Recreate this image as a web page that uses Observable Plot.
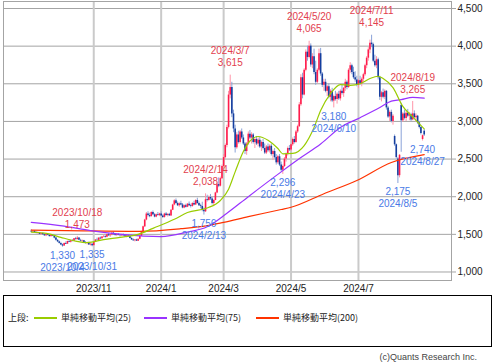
<!DOCTYPE html>
<html><head><meta charset="utf-8">
<script src="https://cdn.jsdelivr.net/npm/d3@7"></script>
<script src="https://cdn.jsdelivr.net/npm/@observablehq/plot@0.6"></script>
<style>
body{margin:0;background:#fff;width:493px;height:362px;overflow:hidden;position:relative;font-family:"Liberation Sans",Arial,sans-serif;}
#chart{position:absolute;left:0;top:0;}
#legend{position:absolute;left:3px;top:295px;width:489px;height:52px;box-sizing:border-box;border:1px solid #000;font-family:"Noto Sans CJK JP",sans-serif;font-size:9px;color:#222;}
#legend .t{position:absolute;top:16px;line-height:12px;white-space:nowrap;}
#legend .l{position:absolute;top:21px;height:1.5px;}
#copy{position:absolute;right:16px;top:352px;font-size:9px;color:#444;line-height:10px;}
</style></head>
<body>
<div id="chart"></div>
<div id="legend"></div>
<div id="copy">(c)Quants Research Inc.</div>
<script>
// trading-day index 0 = 2023/9/6 ... 239 = 2024/8/28
const monthTickIdx = [38, 79, 117, 158, 199];
const monthLabels = ["2023/11", "2024/1", "2024/3", "2024/5", "2024/7"];
const yTicks = [1000, 1500, 2000, 2500, 3000, 3500, 4000, 4500];

// [open, high, low, close]
const candles = [
// Sep
[1540,1560,1525,1530],[1530,1545,1515,1540],[1540,1550,1520,1525],[1525,1535,1505,1515],[1515,1530,1500,1520],
[1520,1525,1495,1500],[1500,1515,1485,1510],[1510,1520,1490,1495],[1495,1505,1475,1480],[1480,1500,1470,1495],
[1495,1510,1480,1485],[1485,1495,1465,1470],[1470,1490,1460,1485],[1485,1495,1470,1475],[1475,1480,1440,1450],
[1450,1460,1410,1420],[1420,1430,1390,1400],
// Oct
[1400,1410,1370,1380],[1380,1395,1350,1360],[1360,1370,1330,1345],[1345,1385,1340,1380],[1380,1400,1365,1370],
[1370,1410,1365,1405],[1405,1425,1390,1395],[1395,1420,1385,1415],[1415,1430,1400,1410],[1410,1445,1405,1440],
[1440,1460,1425,1430],[1430,1473,1425,1450],[1450,1455,1415,1420],[1420,1435,1400,1410],[1410,1425,1390,1415],
[1415,1420,1385,1390],[1390,1405,1370,1380],[1380,1395,1360,1390],[1390,1395,1355,1360],[1360,1375,1345,1370],
[1370,1375,1335,1350],
// Nov
[1350,1400,1345,1395],[1395,1430,1390,1425],[1425,1450,1410,1420],[1420,1455,1415,1450],[1450,1465,1430,1440],
[1440,1470,1435,1465],[1465,1490,1455,1470],[1470,1485,1450,1460],[1460,1500,1455,1495],[1495,1510,1475,1480],
[1480,1495,1460,1490],[1490,1525,1480,1515],[1515,1530,1490,1495],[1495,1505,1475,1485],[1485,1500,1470,1495],
[1495,1510,1480,1485],[1485,1495,1465,1480],[1480,1500,1470,1490],[1490,1505,1475,1480],[1480,1490,1460,1470],
// Dec
[1470,1485,1455,1480],[1480,1495,1465,1470],[1470,1480,1440,1445],[1445,1455,1420,1425],[1425,1440,1405,1415],
[1415,1430,1400,1425],[1425,1435,1405,1410],[1410,1440,1405,1435],[1435,1480,1430,1475],[1475,1540,1470,1535],
[1535,1610,1530,1600],[1600,1700,1590,1690],[1690,1790,1680,1770],[1770,1800,1730,1750],[1750,1780,1720,1735],
[1735,1800,1730,1790],[1790,1810,1750,1760],[1760,1775,1720,1730],[1730,1770,1720,1760],[1760,1790,1740,1750],
[1750,1780,1735,1770],
// Jan
[1770,1800,1740,1745],[1745,1760,1710,1725],[1725,1780,1715,1770],[1770,1790,1740,1750],[1750,1775,1730,1765],
[1765,1780,1740,1745],[1745,1830,1740,1820],[1820,1900,1815,1890],[1890,1960,1880,1945],[1945,1970,1900,1910],
[1910,1930,1870,1880],[1880,1920,1860,1905],[1905,1940,1880,1890],[1890,1910,1840,1850],[1850,1890,1840,1880],
[1880,1900,1850,1860],[1860,1910,1855,1900],[1900,1930,1870,1880],[1880,1900,1850,1870],
// Feb
[1870,1920,1860,1910],[1910,1940,1880,1890],[1890,1960,1885,1950],[1950,1980,1900,1910],[1910,1930,1870,1880],
[1880,1900,1840,1870],[1870,1927,1800,1820],[1820,1850,1756,1800],[1800,2038,1790,1960],[1960,2020,1930,1950],
[1950,2010,1940,1990],[1990,2030,1950,1970],[1970,1990,1890,1910],[1910,1960,1880,1950],[1950,2060,1945,2050],
[2050,2180,2040,2160],[2160,2250,2120,2140],[2140,2260,2130,2240],[2240,2420,2230,2400],
// Mar
[2400,2560,2380,2520],[2520,2700,2500,2680],[2680,2950,2650,2920],[2920,3400,2900,3350],[3350,3615,3300,3450],
[3450,3520,3050,3100],[3100,3150,2850,2900],[2900,2950,2580,2650],[2650,2850,2630,2820],[2820,2870,2700,2720],
[2720,2880,2700,2860],[2860,2900,2760,2780],[2780,2820,2680,2700],[2700,2720,2560,2600],[2600,2720,2550,2700],
[2700,2860,2680,2830],[2830,2880,2760,2780],[2780,2850,2700,2820],[2820,2840,2700,2720],[2720,2780,2640,2760],
// Apr
[2760,2800,2680,2700],[2700,2780,2660,2750],[2750,2790,2640,2660],[2660,2740,2600,2720],[2720,2760,2620,2640],
[2640,2700,2560,2580],[2580,2680,2560,2660],[2660,2700,2590,2610],[2610,2690,2580,2670],[2670,2700,2540,2560],
[2560,2620,2480,2600],[2600,2640,2500,2520],[2520,2560,2420,2450],[2450,2550,2430,2530],[2530,2560,2400,2420],
[2420,2460,2330,2350],[2350,2420,2296,2400],[2400,2520,2390,2500],[2500,2580,2460,2560],[2560,2660,2540,2640],
[2640,2680,2600,2620],
// May
[2620,2700,2600,2690],[2690,2780,2670,2760],[2760,2800,2700,2720],[2720,2880,2710,2860],[2860,2950,2840,2930],
[2930,3250,2920,3220],[3220,3620,3200,3580],[3580,3640,3300,3350],[3350,3700,3340,3680],[3680,3950,3660,3920],
[3920,4000,3800,3850],[3850,4065,3830,4000],[4000,4030,3720,3750],[3750,3900,3700,3860],[3860,3960,3620,3650],
[3650,3800,3480,3520],[3520,3700,3500,3680],[3680,3960,3660,3900],[3900,3970,3600,3630],[3630,3650,3450,3480],
[3480,3560,3400,3520],
// Jun
[3520,3560,3380,3400],[3400,3480,3330,3460],[3460,3500,3300,3320],[3320,3420,3260,3400],[3400,3440,3250,3270],
[3270,3350,3180,3330],[3330,3400,3270,3290],[3290,3380,3230,3360],[3360,3400,3280,3300],[3300,3420,3270,3400],
[3400,3480,3350,3370],[3370,3450,3320,3440],[3440,3560,3400,3520],[3520,3540,3420,3450],[3450,3700,3440,3680],
[3680,3780,3640,3740],[3740,3760,3620,3650],[3650,3720,3560,3580],[3580,3660,3520,3550],[3550,3600,3460,3480],
// Jul
[3480,3560,3440,3540],[3540,3600,3480,3500],[3500,3580,3460,3560],[3560,3640,3520,3620],[3620,3760,3600,3740],
[3740,3860,3700,3840],[3840,3980,3800,3950],[3950,4080,3900,4040],[4040,4145,3980,4020],[4020,4040,3780,3800],
[3800,3880,3720,3740],[3740,3860,3700,3820],[3820,3840,3550,3580],[3580,3600,3280,3320],[3320,3400,3260,3380],
[3380,3430,3300,3320],[3320,3420,3290,3400],[3400,3410,3150,3180],[3180,3200,3040,3060],[3060,3140,3000,3120],
[3120,3150,2980,3000],[3000,3090,2950,3070],
// Aug
[2800,2820,2670,2690],[2690,2700,2500,2520],[2500,2520,2175,2280],[2280,2560,2250,2550],[3210,3240,2590,3010],
[3010,3120,2990,3100],[3100,3150,3020,3040],[3040,3130,3000,3110],[3110,3160,3050,3070],[3070,3120,3010,3090],
[3090,3110,3000,3020],[3020,3265,3010,3100],[3100,3140,3030,3050],[3050,3100,2990,3070],[3070,3080,2960,2980],
[2980,3000,2900,2920],[2920,2930,2820,2840],[2760,2820,2740,2810],[2870,2890,2800,2820]
];

// moving averages [day index, value]
const ma25 = [[0,1530],[10,1510],[18,1460],[27,1410],[34,1390],[44,1430],[54,1460],[65,1500],[74,1580],[87,1700],[95,1790],[107,1850],[115,1950],[120,2100],[124,2330],[129,2600],[133,2740],[138,2800],[144,2750],[150,2640],[153,2570],[159,2575],[166,2680],[172,2920],[176,3145],[182,3370],[188,3490],[194,3480],[200,3500],[206,3570],[211,3600],[214,3570],[220,3450],[226,3200],[232,3060],[239,2900]];
const ma75 = [[0,1660],[20,1610],[36,1550],[55,1500],[79,1470],[95,1530],[107,1600],[119,1780],[132,2000],[152,2330],[164,2520],[176,2700],[188,2920],[200,3050],[212,3185],[219,3270],[225,3290],[232,3320],[239,3310]];
const ma200 = [[0,1555],[36,1545],[66,1540],[91,1575],[107,1615],[117,1660],[132,1735],[152,1830],[158,1860],[178,2040],[198,2215],[219,2455],[239,2560]];

const highLabels = [
  {i:28, date:"2023/10/18", v:1473},
  {i:106, date:"2024/2/14", v:2038},
  {i:121, date:"2024/3/7", v:3615},
  {i:169, date:"2024/5/20", v:4065},
  {i:207, date:"2024/7/11", v:4145},
  {i:232, date:"2024/8/19", v:3265}
];
const lowLabels = [
  {i:19, date:"2023/10/4", v:1330},
  {i:37, date:"2023/10/31", v:1335},
  {i:105, date:"2024/2/13", v:1756},
  {i:153, date:"2024/4/23", v:2296},
  {i:184, date:"2024/6/10", v:3180},
  {i:223, date:"2024/8/5", v:2175},
  {i:238, date:"2024/8/27", v:2740}
];

const legendItems = [
  {label:"単純移動平均(25)", color:"#99cc00"},
  {label:"単純移動平均(75)", color:"#9933ff"},
  {label:"単純移動平均(200)", color:"#ff3300"}
];

const cdata = candles.map(([o,h,l,c], i) => ({i, o, h, l, c, up: c >= o}));
const fmt = d3.format(",");
const nf = v => fmt(v);
const red = "#e2404e", blue = "#4a7ae6";
const tickMap = new Map(monthTickIdx.map((d, k) => [d, monthLabels[k]]));

const chart = Plot.plot({
  width: 493, height: 295,
  marginLeft: 3, marginRight: 42, marginTop: 1, marginBottom: 15,
  style: {fontFamily: "Liberation Sans, Arial, sans-serif", fontSize: "10px", background: "#fff", color: "#222"},
  x: {type: "linear", domain: [-16.9, 255.6]},
  y: {domain: [887, 4593]},
  marks: [
    Plot.ruleY(yTicks, {stroke: "#a4a4a4", strokeWidth: 1}),
    Plot.ruleX(monthTickIdx, {stroke: "#cacaca", strokeWidth: 2}),
    Plot.ruleX(cdata, {x: "i", y1: "l", y2: "h", stroke: d => d.up ? "#ff94a8" : "#8aa3d8", strokeWidth: 1}),
    Plot.ruleX(cdata, {x: "i", y1: "o", y2: "c", stroke: d => d.up ? "#ff1c4c" : "#153e9e", strokeWidth: 1.6}),
    Plot.line(ma200, {x: d => d[0], y: d => d[1], stroke: "#ff3300", strokeWidth: 1.2, curve: "monotone-x"}),
    Plot.line(ma75, {x: d => d[0], y: d => d[1], stroke: "#9933ff", strokeWidth: 1.2, curve: "monotone-x"}),
    Plot.line(ma25, {x: d => d[0], y: d => d[1], stroke: "#99cc00", strokeWidth: 1.2, curve: "monotone-x"}),
    Plot.text(highLabels, {x: "i", y: "v", text: "date", dy: -24, fill: red, fontSize: 10}),
    Plot.text(highLabels, {x: "i", y: "v", text: d => nf(d.v), dy: -12, fill: red, fontSize: 10}),
    Plot.text(lowLabels, {x: "i", y: "v", text: d => nf(d.v), dy: 8.5, fill: blue, fontSize: 10}),
    Plot.text(lowLabels, {x: "i", y: "v", text: "date", dy: 20.5, fill: blue, fontSize: 10}),
    Plot.frame({stroke: "#a4a4a4"}),
    Plot.axisY({anchor: "right", ticks: yTicks, tickSize: 4, tickPadding: 2, tickFormat: fmt, stroke: "#a4a4a4", fontSize: 10, label: null}),
    Plot.axisX({ticks: monthTickIdx, tickSize: 0, tickPadding: 4, tickFormat: d => tickMap.get(d), fontSize: 10, label: null})
  ]
});
document.getElementById("chart").append(chart);

// legend
const lg = document.getElementById("legend");
const lead = document.createElement("span");
lead.className = "t"; lead.style.left = "4px"; lead.textContent = "上段:";
lg.append(lead);
const starts = [30, 140, 252];
legendItems.forEach((it, k) => {
  const ln = document.createElement("div");
  ln.className = "l"; ln.style.left = starts[k] + "px"; ln.style.width = "23px"; ln.style.background = it.color;
  const tx = document.createElement("span");
  tx.className = "t"; tx.style.left = (starts[k] + 27) + "px"; tx.textContent = it.label;
  lg.append(ln, tx);
});
</script>
</body></html>
